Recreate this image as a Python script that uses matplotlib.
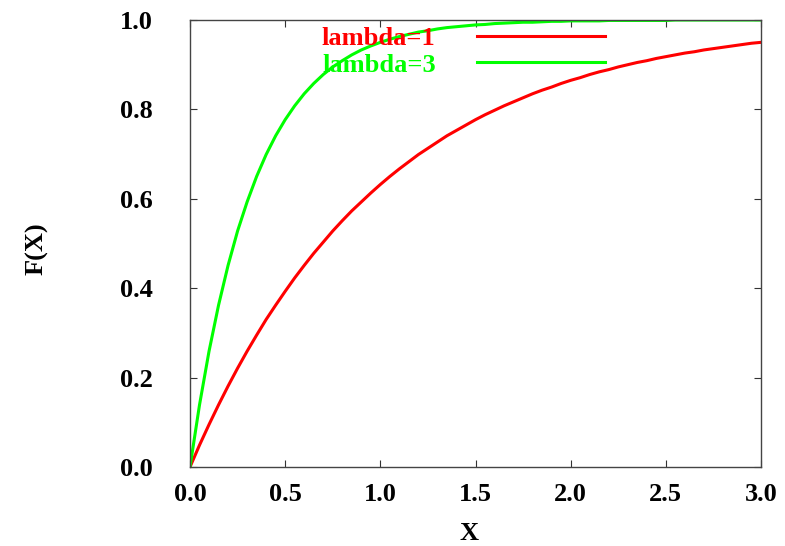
import matplotlib
matplotlib.use("Agg")
import matplotlib.pyplot as plt

x = [0.00, 0.05, 0.10, 0.15, 0.20, 0.25, 0.30, 0.35, 0.40, 0.45, 0.50, 0.55, 0.60, 0.65, 0.70,
     0.75, 0.80, 0.85, 0.90, 0.95, 1.00, 1.05, 1.10, 1.15, 1.20, 1.25, 1.30, 1.35, 1.40, 1.45,
     1.50, 1.55, 1.60, 1.65, 1.70, 1.75, 1.80, 1.85, 1.90, 1.95, 2.00, 2.05, 2.10, 2.15, 2.20,
     2.25, 2.30, 2.35, 2.40, 2.45, 2.50, 2.55, 2.60, 2.65, 2.70, 2.75, 2.80, 2.85, 2.90, 2.95, 3.00]

lambda1 = [0.000, 0.049, 0.095, 0.139, 0.181, 0.221, 0.259, 0.295, 0.330, 0.362, 0.393, 0.423,
           0.451, 0.478, 0.503, 0.528, 0.551, 0.573, 0.593, 0.613, 0.632, 0.650, 0.667, 0.683,
           0.699, 0.713, 0.727, 0.741, 0.753, 0.765, 0.777, 0.788, 0.798, 0.808, 0.817, 0.826,
           0.835, 0.843, 0.850, 0.858, 0.865, 0.871, 0.878, 0.884, 0.889, 0.895, 0.900, 0.905,
           0.909, 0.914, 0.918, 0.922, 0.926, 0.929, 0.933, 0.936, 0.939, 0.942, 0.945, 0.948, 0.950]

lambda3 = [0.000, 0.139, 0.259, 0.362, 0.451, 0.528, 0.593, 0.650, 0.699, 0.741, 0.777, 0.808,
           0.835, 0.858, 0.878, 0.895, 0.909, 0.922, 0.933, 0.942, 0.950, 0.957, 0.963, 0.968,
           0.973, 0.976, 0.980, 0.983, 0.985, 0.987, 0.989, 0.990, 0.992, 0.993, 0.994, 0.995,
           0.995, 0.996, 0.997, 0.997, 0.998, 0.998, 0.998, 0.998, 0.999, 0.999, 0.999, 0.999,
           0.999, 0.999, 0.999, 1.000, 1.000, 1.000, 1.000, 1.000, 1.000, 1.000, 1.000, 1.000, 1.000]

labels = ["lambda=1", "lambda=3"]
xticks = [0.0, 0.5, 1.0, 1.5, 2.0, 2.5, 3.0]
yticks = [0.0, 0.2, 0.4, 0.6, 0.8, 1.0]

plt.rcParams['font.family'] = ['Liberation Serif', 'DejaVu Serif']
plt.rcParams['font.weight'] = 'bold'
FS = 19

fig = plt.figure(figsize=(7.85, 5.46), dpi=100)
ax = fig.add_axes([190/785, 1 - 467/546, (761-190)/785, (467-20)/546])

ax.plot(x, lambda1, color='#ff0000', lw=2.2, label=labels[0])
ax.plot(x, lambda3, color='#00ff00', lw=2.2, label=labels[1])

ax.set_xlim(0, 3)
ax.set_ylim(0, 1)
ax.set_xticks(xticks)
ax.set_yticks(yticks)
ax.set_xticklabels([f"{v:.1f}" for v in xticks], fontsize=FS, fontweight='bold')
ax.set_yticklabels([f"{v:.1f}" for v in yticks], fontsize=FS, fontweight='bold')
ax.tick_params(direction='in', length=5, width=0.8, color='#333333',
               top=True, right=True)
ax.tick_params(axis='y', pad=27)
ax.tick_params(axis='x', pad=11.5)
for s in ax.spines.values():
    s.set_color('#444444')
    s.set_linewidth(1.0)

ax.set_xlabel("X", fontsize=FS, fontweight='bold', va='center')
ax.xaxis.set_label_coords((469-190)/571, (467-534)/447)
ax.set_ylabel("F(X)", fontsize=FS, fontweight='bold', va='center')
ax.yaxis.set_label_coords((37-190)/571, (467-249)/447)

leg = ax.legend(loc='upper left', bbox_to_anchor=(0.231, 0.985), frameon=False,
                markerfirst=False, handlelength=4.85, handletextpad=1.55,
                labelspacing=0.11, borderpad=0, borderaxespad=0,
                prop={'family': 'Liberation Serif', 'weight': 'bold', 'size': FS},
                labelcolor='linecolor')

fig.savefig("out.png", dpi=100)
